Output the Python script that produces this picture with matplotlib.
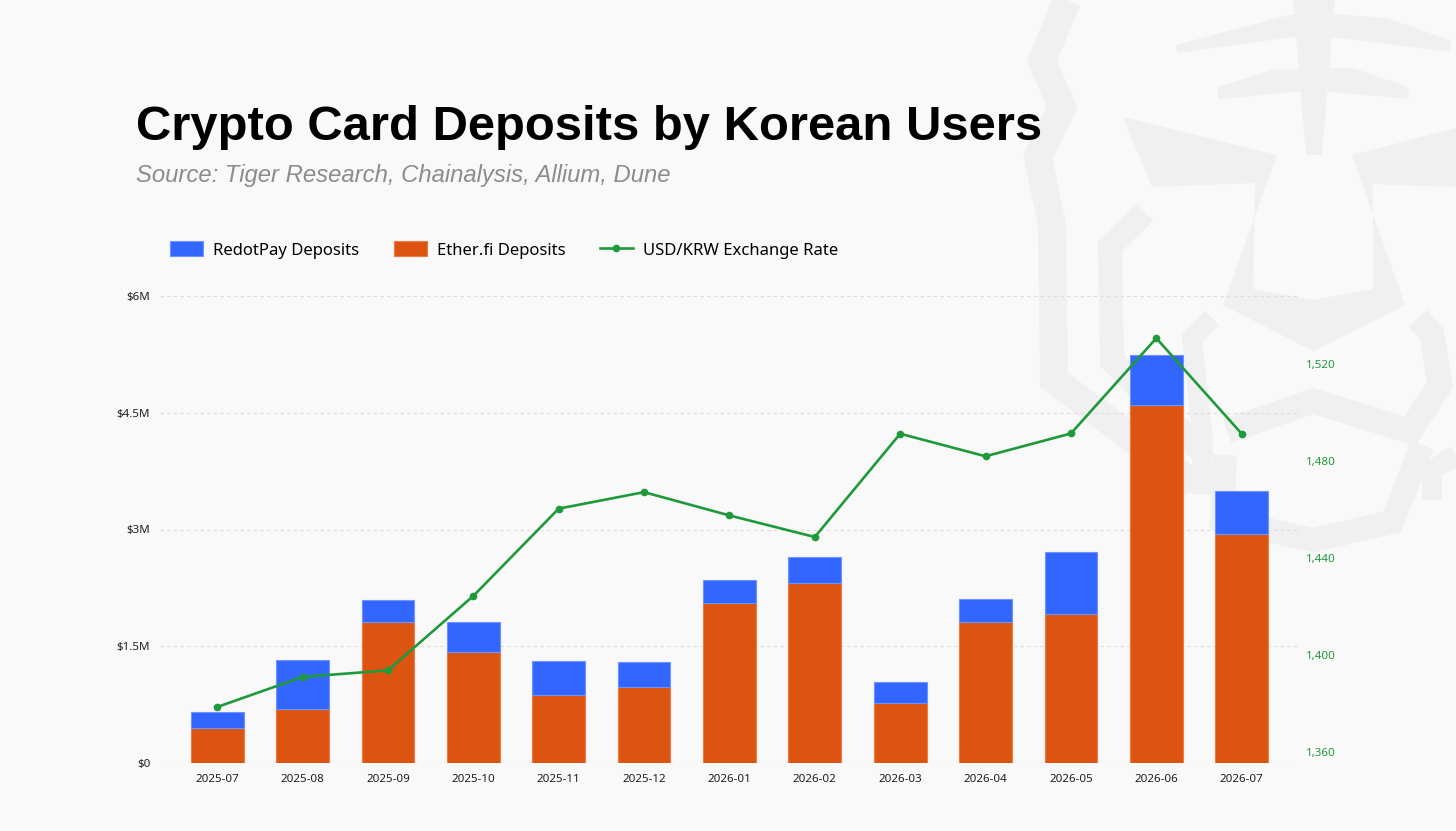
import numpy as np
import matplotlib.pyplot as plt
from matplotlib.lines import Line2D
from matplotlib.patches import Polygon
from matplotlib.ticker import FuncFormatter

# Monthly deposits (USD) and the USD/KRW rate
months = ["2025-07", "2025-08", "2025-09", "2025-10", "2025-11", "2025-12",
          "2026-01", "2026-02", "2026-03", "2026-04", "2026-05", "2026-06", "2026-07"]
etherfi = [455000, 694000, 1815000, 1426000, 874000, 980000,
           2050000, 2317000, 767000, 1815000, 1908000, 4595000, 2940000]
redotpay = [205000, 626000, 285000, 384000, 436000, 320000,
            297000, 330000, 273000, 292000, 807000, 645000, 560000]
usd_krw = [1378.7, 1391.1, 1393.8, 1424.5, 1460.5, 1467.3,
           1457.7, 1448.8, 1491.4, 1482.1, 1491.5, 1530.8, 1491.4]

left_ticks = [0, 1500000, 3000000, 4500000, 6000000]
right_ticks = [1360, 1400, 1440, 1480, 1520]

BLUE = "#3366ff"
ORANGE = "#dd5412"
GREEN = "#1f9a3a"
BG = "#f9f9f9"
MARK = "#f0f0f0"

W, H = 1456, 831
fig = plt.figure(figsize=(W / 100, H / 100), dpi=100, facecolor=BG)


# faint tiger watermark on the right (pixel coords of the picture)
def px(pts):
    return [(x / W, 1 - y / H) for x, y in pts]


def stroke(pts, width):
    xs, ys = zip(*px(pts))
    fig.add_artist(Line2D(xs, ys, transform=fig.transFigure, color=MARK,
                          lw=width * 0.72, solid_joinstyle="miter",
                          solid_capstyle="butt", zorder=-5))


def blob(pts):
    fig.add_artist(Polygon(px(pts), closed=True, transform=fig.transFigure,
                           facecolor=MARK, edgecolor="none", zorder=-5))


# forehead mark
blob([(1176, 45), (1293, 14), (1333, 14), (1387, 18), (1452, 41), (1450, 52),
      (1333, 37), (1293, 37), (1177, 53)])
blob([(1293, 0), (1335, 0), (1322, 155), (1306, 155)])
blob([(1218, 87), (1273, 70), (1353, 68), (1408, 87), (1409, 99), (1333, 92),
      (1293, 92), (1218, 99)])
# eyes and nose chevron
blob([(1123, 117), (1277, 155), (1223, 305), (1313, 351), (1405, 305), (1352, 155),
      (1456, 128), (1456, 187), (1373, 184), (1373, 289), (1313, 300), (1253, 289),
      (1255, 183), (1152, 187)])
# face contour
stroke([(1067, 0), (1042, 61), (1062, 107), (1038, 157), (1052, 225), (1054, 380),
        (1195, 485)], 28)
stroke([(1145, 212), (1110, 246), (1112, 361), (1200, 450)], 24)
stroke([(1212, 318), (1192, 338), (1203, 440), (1201, 494)], 20)
# cheeks and mouth
stroke([(1227, 431), (1313, 401), (1410, 431), (1440, 385), (1432, 335),
        (1418, 318)], 25)
stroke([(1225, 455), (1222, 520), (1313, 540), (1392, 522), (1422, 445)], 24)
stroke([(1456, 455), (1432, 470), (1432, 500)], 20)

ax = fig.add_axes([160 / W, 1 - 763 / H, (1298 - 160) / W, (763 - 296) / H])
ax.set_facecolor("none")
x = np.arange(len(months))
bw = 0.617

ax.bar(x, etherfi, width=bw, color=ORANGE, edgecolor="#f07a45", linewidth=0.8,
       label="Ether.fi Deposits", zorder=2)
ax.bar(x, redotpay, width=bw, bottom=etherfi, color=BLUE, edgecolor="#6f93ff",
       linewidth=0.8, label="RedotPay Deposits", zorder=2)

ax.set_xlim(-0.67, 12.66)
ax.set_ylim(0, 6000000)
ax.set_xticks(x)
ax.set_xticklabels(months)
ax.set_yticks(left_ticks)
ax.yaxis.set_major_formatter(FuncFormatter(
    lambda v, p: "$0" if v == 0 else f"${v / 1e6:g}M"))
ax.tick_params(length=0, labelsize=8.3, labelcolor="#1e1e1e")
ax.tick_params(axis="x", pad=8)
ax.tick_params(axis="y", pad=7)
for lab in ax.get_xticklabels() + ax.get_yticklabels():
    lab.set_family("Noto Sans")
ax.grid(axis="y", color="#dcdcdc", lw=0.8, ls=(0, (3, 3)))
ax.set_axisbelow(True)
for s in ax.spines.values():
    s.set_visible(False)

ax2 = ax.twinx()
ax2.set_facecolor("none")
ax2.plot(x, usd_krw, color=GREEN, lw=1.9, marker="o", ms=4.5,
         label="USD/KRW Exchange Rate", zorder=3)
ax2.set_ylim(1355.6, 1548.2)
ax2.set_yticks(right_ticks)
ax2.yaxis.set_major_formatter(FuncFormatter(lambda v, p: f"{v:,.0f}"))
ax2.tick_params(length=0, labelsize=8.3, labelcolor=GREEN, pad=6)
for lab in ax2.get_yticklabels():
    lab.set_family("Noto Sans")
for s in ax2.spines.values():
    s.set_visible(False)

# legend in the order of the reference
h, l = ax.get_legend_handles_labels()
h2, l2 = ax2.get_legend_handles_labels()
fig.legend([h[1], h[0], h2[0]], [l[1], l[0], l2[0]], loc="center left",
           bbox_to_anchor=(170 / W, 1 - 250 / H), ncol=3, frameon=False,
           borderpad=0, borderaxespad=0, handlelength=2.0, handleheight=1.0,
           handletextpad=0.6, columnspacing=2.05,
           prop={"family": "Noto Sans", "size": 12})

fig.text(136 / W, 1 - 140 / H, "Crypto Card Deposits by Korean Users",
         family="Liberation Sans", weight="bold", size=35.3, color="#000000",
         va="baseline")
fig.text(136 / W, 1 - 182 / H, "Source: Tiger Research, Chainalysis, Allium, Dune",
         family="Liberation Sans", style="italic", size=17.2, color="#8c8c8c",
         va="baseline")

fig.savefig("out.png", dpi=100, facecolor=BG)
